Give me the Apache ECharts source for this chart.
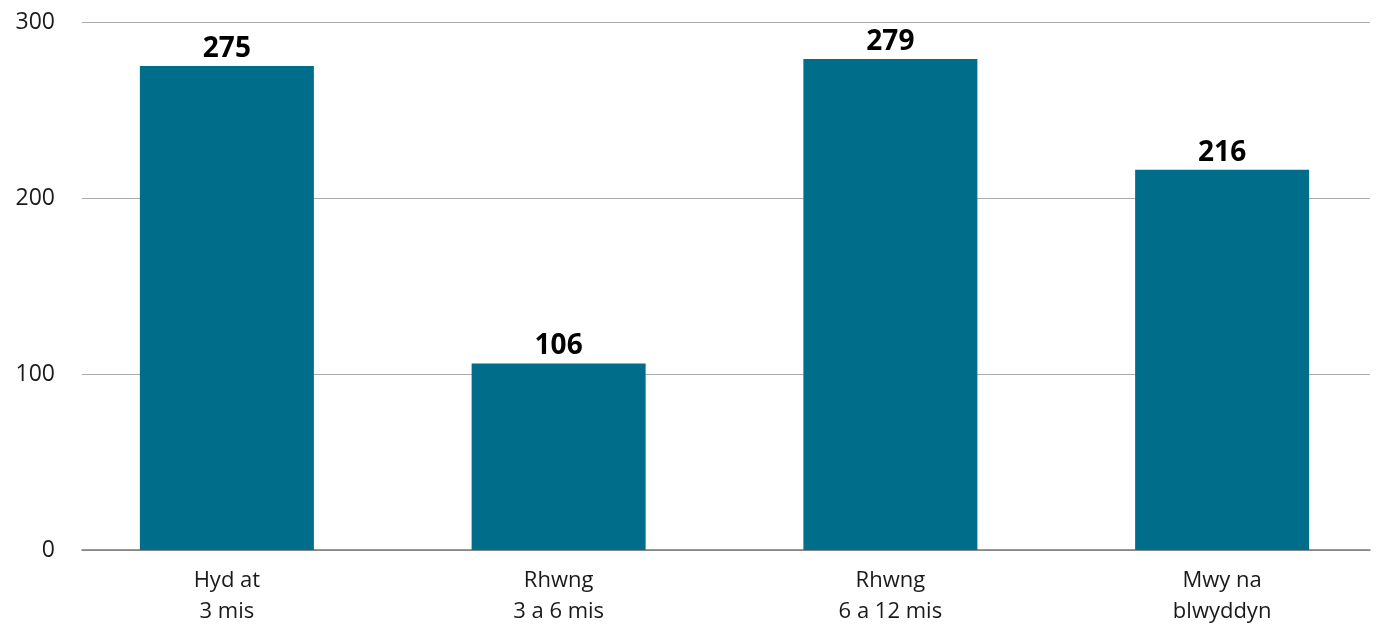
<!DOCTYPE html>
<html>
<head>
<meta charset="utf-8">
<script src="https://cdn.jsdelivr.net/npm/echarts@6/dist/echarts.min.js"></script>
<style>
html,body{margin:0;padding:0;background:#fff;}
#main{width:1377px;height:625px;}
</style>
</head>
<body>
<div id="main"></div>
<script>
const categories = ['Hyd at\n3 mis', 'Rhwng\n3 a 6 mis', 'Rhwng\n6 a 12 mis', 'Mwy na\nblwyddyn'];
const values = [275, 106, 279, 216];
const yTicks = [0, 100, 200, 300];

const chart = echarts.init(document.getElementById('main'), null, {renderer: 'canvas'});
const font = '"Open Sans", Lato, sans-serif';
chart.setOption({
  animation: false,
  grid: [
    {left: 82, right: 7, top: 22, bottom: 75, containLabel: false, outerBoundsMode: 'none'},
    {left: 61, width: 1327, top: 22, bottom: 75, containLabel: false, outerBoundsMode: 'none'}
  ],
  xAxis: [
    {gridIndex: 0, type: 'category', data: categories, axisLine: {show: true, lineStyle: {color: '#7a7a7a', width: 1.5}},
     axisTick: {show: false}, axisLabel: {show: false}, splitLine: {show: false}},
    {gridIndex: 1, type: 'category', data: categories, axisLine: {show: false}, axisTick: {show: false},
     axisLabel: {show: true, color: '#1a1a1a', fontSize: 22, fontFamily: font, lineHeight: 31, margin: 15}}
  ],
  yAxis: [
    {gridIndex: 0, type: 'value', min: yTicks[0], max: yTicks[yTicks.length - 1], interval: 100,
     axisLine: {show: false}, axisTick: {show: false},
     axisLabel: {color: '#1a1a1a', fontSize: 23, fontFamily: font, margin: 27},
     splitLine: {show: true, lineStyle: {color: '#ababab', width: 1}}},
    {gridIndex: 1, type: 'value', min: yTicks[0], max: yTicks[yTicks.length - 1], interval: 100,
     show: false, splitLine: {show: false}}
  ],
  series: [{
    type: 'bar',
    xAxisIndex: 1,
    yAxisIndex: 1,
    data: values,
    barWidth: 174,
    itemStyle: {color: '#006e8a'},
    label: {show: true, position: 'top', distance: 3, color: '#000', fontSize: 28, fontWeight: 'bold', fontFamily: font}
  }]
});
</script>
</body>
</html>
